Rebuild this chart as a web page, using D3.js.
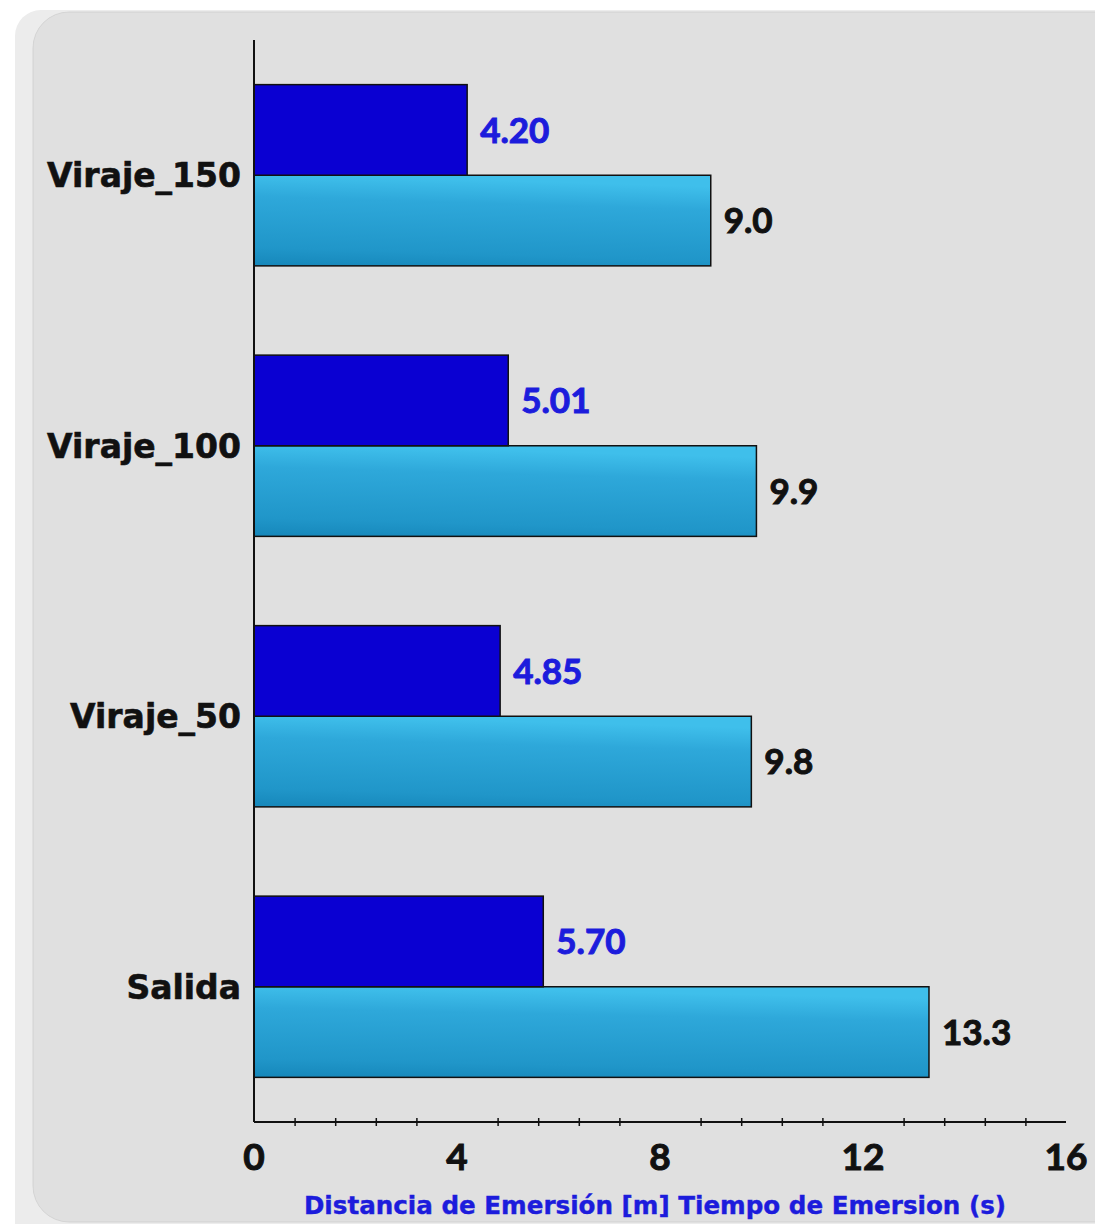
<!DOCTYPE html>
<html>
<head>
<meta charset="utf-8">
<script src="https://cdn.jsdelivr.net/npm/d3@7"></script>
<style>
  html, body { margin: 0; padding: 0; background: #ffffff; }
  svg { display: block; }
  text { font-weight: bold; }
  .num { font-family: Lato, "Open Sans", sans-serif; }
  .wide { font-family: "DejaVu Sans", Verdana, sans-serif; }
</style>
</head>
<body>
<svg id="chart" width="1095" height="1224"></svg>
<script>
const categories = ["Viraje_150", "Viraje_100", "Viraje_50", "Salida"];
const seriesNames = ["Distancia de Emersión [m]", "Tiempo de Emersion (s)"];
const distancia = [4.20, 5.01, 4.85, 5.70];
const tiempo = [9.0, 9.9, 9.8, 13.3];
const tickLabels = [0, 4, 8, 12, 16];
const axisTitle = "Distancia de Emersión [m] Tiempo de Emersion (s)";

const svg = d3.select("#chart");
const defs = svg.append("defs");

const grad = defs.append("linearGradient")
  .attr("id", "cyanGrad").attr("x1", 0).attr("y1", 1).attr("x2", 0.15).attr("y2", 0);
grad.append("stop").attr("offset", "0%").attr("stop-color", "#1687ba");
grad.append("stop").attr("offset", "20%").attr("stop-color", "#2096c9");
grad.append("stop").attr("offset", "75%").attr("stop-color", "#2ea8da");
grad.append("stop").attr("offset", "100%").attr("stop-color", "#3fbfeb");

// background panels
svg.append("rect").attr("x", 15).attr("y", 10).attr("width", 1110).attr("height", 1240)
  .attr("rx", 26).attr("fill", "#ececec");
svg.append("rect").attr("x", 33).attr("y", 12).attr("width", 1100).attr("height", 1210)
  .attr("rx", 36).attr("fill", "#e0e0e0").attr("stroke", "#c8c8c8").attr("stroke-width", 0.6);

const mLeft = 254, mRight = 1066, mTop = 40, mBottom = 1122;

const x = d3.scaleLinear().domain([0, 16]).range([mLeft, mRight]);
const y = d3.scaleBand().domain(categories).range([mTop, mBottom])
  .paddingInner(0.33).paddingOuter(0.165);
const sub = d3.scaleBand().domain(seriesNames).range([0, y.bandwidth()]).padding(0);

const rows = categories.map((c, i) => ({ cat: c, d: distancia[i], t: tiempo[i] }));

const g = svg.append("g");

// light (tiempo) bars
g.selectAll("rect.t").data(rows).join("rect")
  .attr("class", "t")
  .attr("x", x(0))
  .attr("y", r => y(r.cat) + sub(seriesNames[1]))
  .attr("width", r => x(r.t) - x(0))
  .attr("height", sub.bandwidth())
  .attr("fill", "url(#cyanGrad)")
  .attr("stroke", "#111").attr("stroke-width", 1.5);

// dark (distancia) bars
g.selectAll("rect.d").data(rows).join("rect")
  .attr("class", "d")
  .attr("x", x(0))
  .attr("y", r => y(r.cat) + sub(seriesNames[0]))
  .attr("width", r => x(r.d) - x(0))
  .attr("height", sub.bandwidth())
  .attr("fill", "#0a00d2")
  .attr("stroke", "#111").attr("stroke-width", 1.5);

// value labels
g.selectAll("text.dl").data(rows).join("text")
  .attr("class", "dl num")
  .attr("x", r => x(r.d) + 13)
  .attr("y", r => y(r.cat) + sub(seriesNames[0]) + sub.bandwidth() / 2)
  .attr("dy", "0.36em")
  .attr("font-size", 35)
  .attr("fill", "#1c1cdc").attr("stroke", "#1c1cdc").attr("stroke-width", 1)
  .text(r => r.d.toFixed(2));

g.selectAll("text.tl").data(rows).join("text")
  .attr("class", "tl num")
  .attr("x", r => x(r.t) + 13)
  .attr("y", r => y(r.cat) + sub(seriesNames[1]) + sub.bandwidth() / 2)
  .attr("dy", "0.36em")
  .attr("font-size", 35)
  .attr("fill", "#111").attr("stroke", "#111").attr("stroke-width", 1)
  .text(r => r.t.toFixed(1));

// category labels
g.selectAll("text.cat").data(rows).join("text")
  .attr("class", "cat wide")
  .attr("x", 241)
  .attr("y", r => y(r.cat) + sub(seriesNames[1]))
  .attr("dy", "0.36em")
  .attr("text-anchor", "end")
  .attr("font-size", 33)
  .attr("fill", "#111").attr("stroke", "#111").attr("stroke-width", 0.6)
  .text(r => r.cat);

// y axis line
svg.append("line").attr("x1", mLeft).attr("x2", mLeft).attr("y1", mTop).attr("y2", mBottom)
  .attr("stroke", "#111").attr("stroke-width", 2);

// x axis: line, minor ticks, labels
const minorVals = d3.range(1, 21).map(k => k * 0.8).filter(v => Math.abs(v / 4 - Math.round(v / 4)) > 1e-6);
const xAxis = d3.axisBottom(x).tickValues(minorVals).tickSize(0).tickFormat("");
const ax = svg.append("g").attr("transform", `translate(0,${mBottom})`).call(xAxis);
ax.select(".domain").attr("d", `M${mLeft},0H${mRight}`).attr("stroke", "#111").attr("stroke-width", 2);
ax.selectAll(".tick line").attr("y1", -4).attr("y2", 4).attr("stroke", "#111").attr("stroke-width", 1.5);

svg.append("g").selectAll("text").data(tickLabels).join("text")
  .attr("class", "num")
  .attr("x", d => x(d))
  .attr("y", 1170)
  .attr("text-anchor", "middle")
  .attr("font-size", 37)
  .attr("fill", "#111").attr("stroke", "#111").attr("stroke-width", 1)
  .text(d => d);

svg.append("text")
  .attr("class", "wide")
  .attr("x", 655).attr("y", 1214)
  .attr("text-anchor", "middle")
  .attr("font-size", 24.6)
  .attr("fill", "#1c1cdc").attr("stroke", "#1c1cdc").attr("stroke-width", 0.4)
  .text(axisTitle);
</script>
</body>
</html>
